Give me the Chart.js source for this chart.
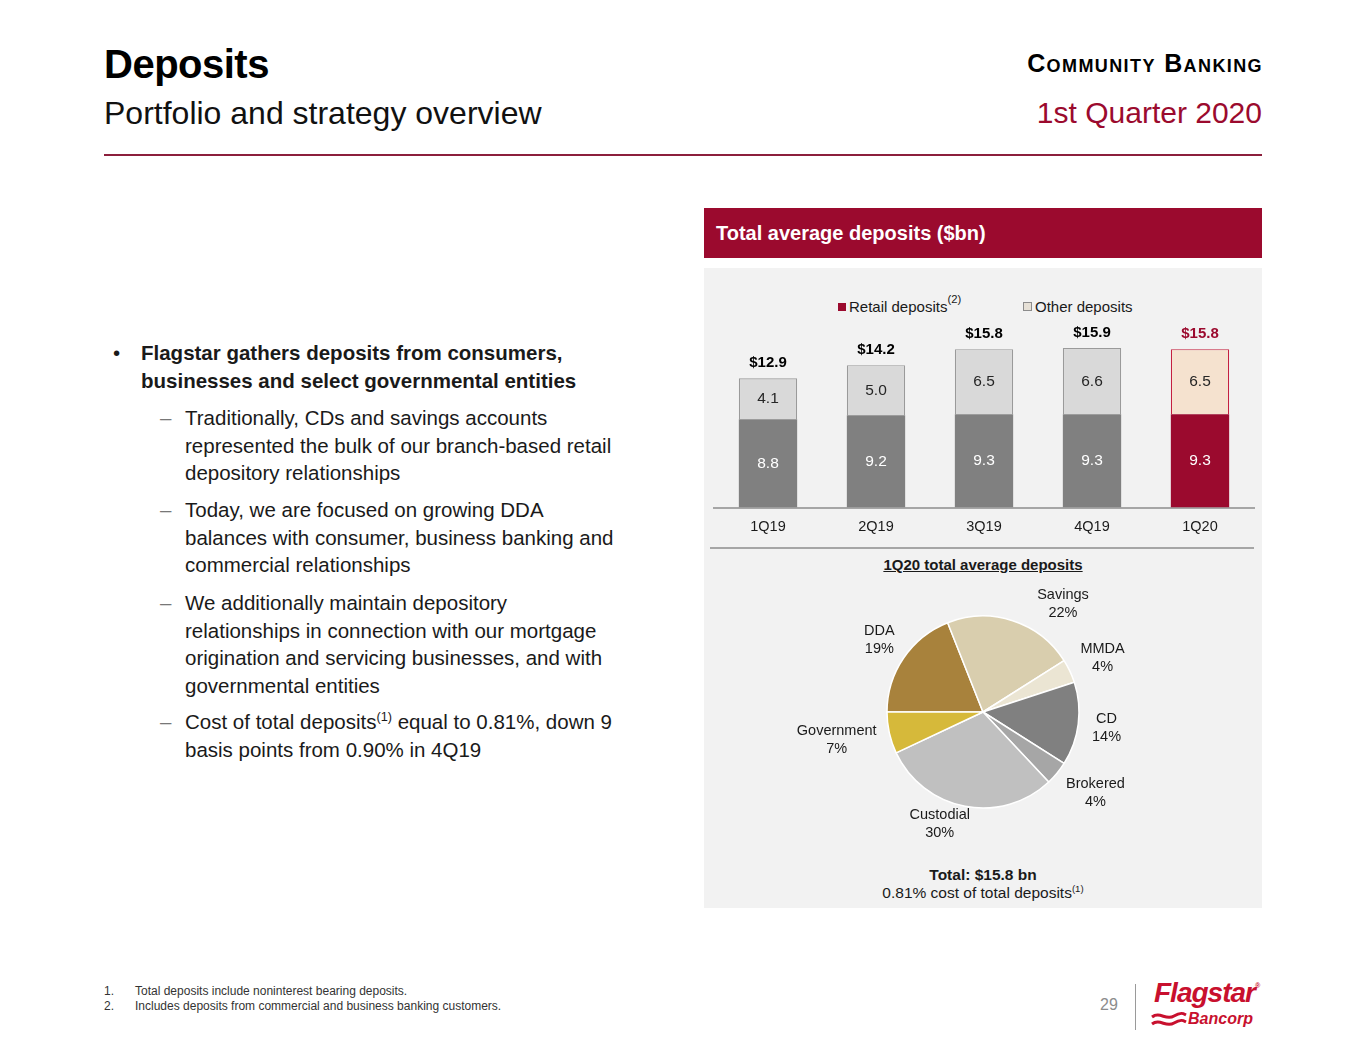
<!DOCTYPE html>
<html>
<head>
<meta charset="utf-8">
<script src="https://cdn.jsdelivr.net/npm/chart.js@4/dist/chart.umd.min.js"></script>
<style>
  body { margin: 0; background: #fff; font-family: "Liberation Sans", Arial, sans-serif; color: #1a1a1a; }
  #page { position: relative; width: 1365px; height: 1055px; overflow: hidden; }
  .abs { position: absolute; white-space: nowrap; }
  .title { left: 104px; top: 42px; font-size: 40px; font-weight: bold; color: #000; letter-spacing: -0.5px; }
  .subtitle { left: 104px; top: 95px; font-size: 32px; color: #111; }
  .section { right: 102px; top: 49px; font-size: 25px; font-weight: bold; font-variant: small-caps; color: #000; letter-spacing: 1.4px; }
  .quarter { right: 103px; top: 96px; font-size: 30px; color: #9b0a2e; }
  .rule { left: 104px; top: 154px; width: 1158px; height: 2px; background: #8c1f3c; }
  .head { left: 704px; top: 208px; width: 558px; height: 50px; background: #9b0a2e; }
  .head span { position: absolute; left: 12px; top: 14px; color: #fff; font-size: 20px; font-weight: bold; }
  .panel { left: 704px; top: 268px; width: 558px; height: 640px; background: #f2f2f2; }
  .text { font-size: 20.5px; line-height: 27.5px; color: #1a1a1a; }
  .text b { font-weight: bold; }
  .dash { color: #777; }
  sup { font-size: 62%; vertical-align: 0.6em; line-height: 0; }
  .legend { top: 298px; font-size: 15px; color: #1a1a1a; }
  .legend sup { font-size: 75%; vertical-align: 0.8em; }
  .sw { display: inline-block; width: 8px; height: 8px; margin-right: 3px; vertical-align: 1px; }
  .sep { left: 710px; top: 547px; width: 544px; height: 2px; background: #a6a6a6; }
  .pietitle { left: 704px; width: 558px; top: 556px; text-align: center; font-size: 15px; font-weight: bold; text-decoration: underline; }
  .total { left: 704px; width: 558px; text-align: center; font-size: 15.5px; }
  .foot { font-size: 12px; color: #333; font-family: "Liberation Sans Narrow", "Liberation Sans", sans-serif; }
</style>
</head>
<body>
<div id="page">
  <div class="abs title">Deposits</div>
  <div class="abs subtitle">Portfolio and strategy overview</div>
  <div class="abs section">Community Banking</div>
  <div class="abs quarter">1st Quarter 2020</div>
  <div class="abs rule"></div>

  <div class="abs text" style="left:113px; top:339px;">&bull;</div>
  <div class="abs text" style="left:141px; top:339px;"><b>Flagstar gathers deposits from consumers,<br>businesses and select governmental entities</b></div>

  <div class="abs text dash" style="left:160px; top:404px;">&ndash;</div>
  <div class="abs text" style="left:185px; top:404px;">Traditionally, CDs and savings accounts<br>represented the bulk of our branch-based retail<br>depository relationships</div>

  <div class="abs text dash" style="left:160px; top:496px;">&ndash;</div>
  <div class="abs text" style="left:185px; top:496px;">Today, we are focused on growing DDA<br>balances with consumer, business banking and<br>commercial relationships</div>

  <div class="abs text dash" style="left:160px; top:589px;">&ndash;</div>
  <div class="abs text" style="left:185px; top:589px;">We additionally maintain depository<br>relationships in connection with our mortgage<br>origination and servicing businesses, and with<br>governmental entities</div>

  <div class="abs text dash" style="left:160px; top:708px;">&ndash;</div>
  <div class="abs text" style="left:185px; top:708px;">Cost of total deposits<sup>(1)</sup> equal to 0.81%, down 9<br>basis points from 0.90% in 4Q19</div>

  <div class="abs head"><span>Total average deposits ($bn)</span></div>
  <div class="abs panel"></div>

  <div class="abs legend" style="left:838px;"><span class="sw" style="background:#9b0a2e;"></span>Retail deposits<sup>(2)</sup></div>
  <div class="abs legend" style="left:1023px;"><span class="sw" style="background:#e6e0d6; border:1px solid #8c8c8c; width:7px; height:7px;"></span>Other deposits</div>

  <canvas id="barChart" class="abs" style="left:704px; top:307px; width:558px; height:240px;"></canvas>
  <div class="abs sep"></div>

  <div class="abs pietitle">1Q20 total average deposits</div>
  <canvas id="pieChart" class="abs" style="left:704px; top:572px; width:558px; height:280px;"></canvas>

  <div class="abs total" style="top:866px;"><b>Total: $15.8 bn</b></div>
  <div class="abs total" style="top:884px;">0.81% cost of total deposits<sup>(1)</sup></div>

  <div class="abs foot" style="left:104px; top:984px;">1.</div>
  <div class="abs foot" style="left:135px; top:984px;">Total deposits include noninterest bearing deposits.</div>
  <div class="abs foot" style="left:104px; top:999px;">2.</div>
  <div class="abs foot" style="left:135px; top:999px;">Includes deposits from commercial and business banking customers.</div>

  <div class="abs" style="left:1100px; top:996px; font-size:16px; color:#8c8c8c;">29</div>
  <div class="abs" style="left:1135px; top:984px; width:1px; height:46px; background:#9a9a9a;"></div>
  <div class="abs" style="left:1154px; top:977px; font-size:28px; font-weight:bold; font-style:italic; color:#c8102e; letter-spacing:-1px;">Flagstar<span style="font-size:7px; vertical-align:14px;">&reg;</span></div>
  <svg class="abs" style="left:1150px; top:1010px;" width="40" height="20" viewBox="0 0 40 20">
    <path d="M2 7 C 10 1, 16 11, 24 6 S 34 4, 36 5" stroke="#c8102e" stroke-width="3" fill="none"/>
    <path d="M2 14 C 10 8, 16 18, 24 13 S 34 11, 36 12" stroke="#c8102e" stroke-width="3" fill="none"/>
  </svg>
  <div class="abs" style="left:1188px; top:1010px; font-size:16px; font-weight:bold; font-style:italic; color:#c8102e;">Bancorp</div>
</div>

<script>
// bar chart data
const quarters = ['1Q19', '2Q19', '3Q19', '4Q19', '1Q20'];
const retailDeposits = [8.8, 9.2, 9.3, 9.3, 9.3];
const otherDeposits = [4.1, 5.0, 6.5, 6.6, 6.5];
const totalDeposits = [12.9, 14.2, 15.8, 15.9, 15.8];

// pie chart data
const mixLabels = ['DDA', 'Savings', 'MMDA', 'CD', 'Brokered', 'Custodial', 'Government'];
const mixShares = [19, 22, 4, 14, 4, 30, 7];

const RED = '#9b0a2e';
const FONT = '"Liberation Sans", Arial, sans-serif';

// small nudges for pie labels that sit off their slice's mid-angle
const labelNudge = { Savings: [38, 14], Custodial: [-17, -14], Brokered: [5, -1] };

const barLabels = {
    id: 'barLabels',
    afterDatasetsDraw(chart) {
        const ctx = chart.ctx;
        ctx.save();
        ctx.textAlign = 'center';
        ctx.textBaseline = 'middle';
        chart.data.datasets.forEach((ds, di) => {
            const meta = chart.getDatasetMeta(di);
            meta.data.forEach((bar, i) => {
                const mid = (bar.y + bar.base) / 2;
                ctx.font = '15.5px ' + FONT;
                ctx.fillStyle = di === 0 ? '#ffffff' : '#262626';
                ctx.fillText(ds.data[i].toFixed(1), bar.x, mid);
            });
        });
        const top = chart.getDatasetMeta(1);
        top.data.forEach((bar, i) => {
            const y = chart.scales.y.getPixelForValue(totalDeposits[i]);
            ctx.font = 'bold 15px ' + FONT;
            ctx.fillStyle = i === quarters.length - 1 ? RED : '#000';
            ctx.fillText('$' + totalDeposits[i].toFixed(1), bar.x, y - 15);
        });
        ctx.restore();
    }
};

new Chart(document.getElementById('barChart'), {
    type: 'bar',
    data: {
        labels: quarters,
        datasets: [{
            label: 'Retail deposits',
            data: retailDeposits,
            backgroundColor: ['#808080', '#808080', '#808080', '#808080', RED],
            borderWidth: 0
        }, {
            label: 'Other deposits',
            data: otherDeposits,
            backgroundColor: ['#d9d9d9', '#d9d9d9', '#d9d9d9', '#d9d9d9', '#f5e2cf'],
            borderColor: ['#9a9a9a', '#9a9a9a', '#9a9a9a', '#9a9a9a', '#c4203f'],
            borderWidth: 1.2,
            borderSkipped: 'bottom'
        }]
    },
    options: {
        responsive: false,
        animation: false,
        barPercentage: 0.54,
        categoryPercentage: 1,
        layout: { padding: { left: 10, right: 8, top: 0, bottom: 0 } },
        plugins: { legend: { display: false }, tooltip: { enabled: false } },
        scales: {
            x: {
                stacked: true,
                grid: { display: false, drawTicks: false },
                border: { display: true, color: '#a6a6a6', width: 2 },
                ticks: { color: '#1a1a1a', font: { family: FONT, size: 14.5 }, padding: 11 }
            },
            y: {
                stacked: true,
                display: false,
                min: 0,
                max: 20
            }
        }
    },
    plugins: [barLabels]
});

const pieLabels = {
    id: 'pieLabels',
    afterDatasetsDraw(chart) {
        const ctx = chart.ctx;
        ctx.save();
        ctx.font = '14.5px ' + FONT;
        ctx.fillStyle = '#1a1a1a';
        ctx.textAlign = 'center';
        ctx.textBaseline = 'middle';
        chart.getDatasetMeta(0).data.forEach((arc, i) => {
            const p = arc.getProps(['x', 'y', 'startAngle', 'endAngle', 'outerRadius'], true);
            const a = (p.startAngle + p.endAngle) / 2;
            const name = mixLabels[i];
            const pct = mixShares[i] + '%';
            const w = Math.max(ctx.measureText(name).width, ctx.measureText(pct).width);
            const r = p.outerRadius + 14;
            let cx = p.x + Math.cos(a) * r + Math.cos(a) * w / 2;
            let cy = p.y + Math.sin(a) * r + Math.sin(a) * 18;
            const n = labelNudge[name];
            if (n) { cx += n[0]; cy += n[1]; }
            ctx.fillText(name, cx, cy - 9);
            ctx.fillText(pct, cx, cy + 9);
        });
        ctx.restore();
    }
};

new Chart(document.getElementById('pieChart'), {
    type: 'pie',
    data: {
        labels: mixLabels,
        datasets: [{
            data: mixShares,
            backgroundColor: ['#a8823c', '#d9ceae', '#ebe5d3', '#808080', '#a6a6a6', '#c0c0c0', '#d6b93a'],
            borderColor: '#ffffff',
            borderWidth: 1.5,
            radius: 96
        }]
    },
    options: {
        responsive: false,
        animation: false,
        rotation: -90,
        plugins: { legend: { display: false }, tooltip: { enabled: false } }
    },
    plugins: [pieLabels]
});
</script>
</body>
</html>
